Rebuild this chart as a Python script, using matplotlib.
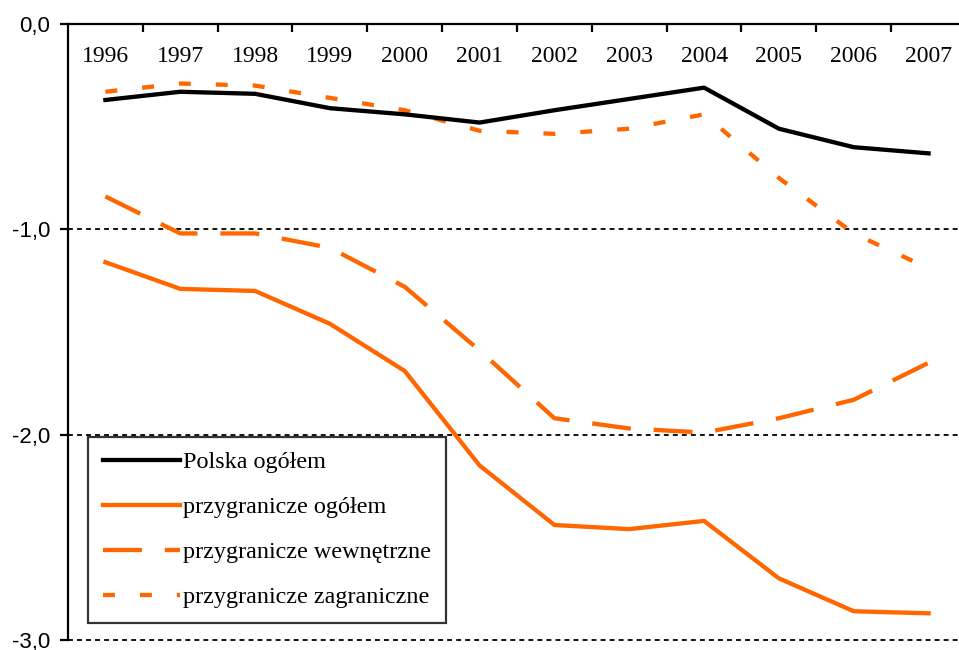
import matplotlib
matplotlib.use("Agg")
import matplotlib.pyplot as plt
from matplotlib.transforms import blended_transform_factory

# dane
years = ["1996", "1997", "1998", "1999", "2000", "2001",
         "2002", "2003", "2004", "2005", "2006", "2007"]
polska_ogolem = [-0.37, -0.33, -0.34, -0.41, -0.44, -0.48,
                 -0.42, -0.365, -0.31, -0.51, -0.60, -0.63]
przyg_ogolem = [-1.16, -1.29, -1.30, -1.46, -1.69, -2.15,
                -2.44, -2.46, -2.42, -2.70, -2.86, -2.87]
przyg_wewn = [-0.84, -1.02, -1.02, -1.09, -1.28, -1.59,
              -1.92, -1.97, -1.99, -1.92, -1.83, -1.65]
przyg_zagr = [-0.33, -0.29, -0.30, -0.36, -0.42, -0.52,
              -0.535, -0.51, -0.44, -0.75, -1.02, -1.19]
labels = ["Polska ogółem", "przygranicze ogółem",
          "przygranicze wewnętrzne", "przygranicze zagraniczne"]
y_ticks = [0.0, -1.0, -2.0, -3.0]

orange = "#FF6600"
plt.rcParams["lines.scale_dashes"] = False

W, H = 959, 650
fig = plt.figure(figsize=(W / 100, H / 100), dpi=100)
ax = fig.add_axes([68 / W, 1 - 640 / H, 898 / W, 616 / H])

x = list(range(len(years)))
ax.plot(x, polska_ogolem, color="black", lw=3.1, label=labels[0],
        solid_joinstyle="round", zorder=5)
ax.plot(x, przyg_ogolem, color=orange, lw=3.1, label=labels[1],
        solid_joinstyle="round", zorder=4)
ax.plot(x, przyg_wewn, color=orange, lw=3.1, label=labels[2],
        dashes=(28, 16.5), dash_capstyle="butt", zorder=4)
ax.plot(x, przyg_zagr, color=orange, lw=3.1, label=labels[3],
        dashes=(8.6, 18), dash_capstyle="butt", zorder=4)

ax.set_xlim(-0.5, len(years) - 0.5)
ax.set_ylim(-3.0, 0.0)

# siatka pozioma
for v in y_ticks[1:]:
    ax.axhline(v, color="black", lw=1.3, linestyle=(0, (3.5, 3)),
               zorder=2, clip_on=False)

for s in ["right", "bottom"]:
    ax.spines[s].set_visible(False)
ax.spines["left"].set_linewidth(1.6)
ax.spines["top"].set_linewidth(1.6)

ax.set_yticks(y_ticks)
ax.set_yticklabels([f"{v:.1f}".replace(".", ",") for v in y_ticks],
                   family="Liberation Sans", fontsize=16)
ax.tick_params(axis="y", direction="out", length=6, width=1.6, pad=7)

ax.xaxis.set_ticks_position("top")
ax.set_xticks([i + 0.5 for i in x[:-1]])
ax.set_xticklabels([])
ax.tick_params(axis="x", direction="in", length=6, width=1.6)

tr = blended_transform_factory(ax.transData, ax.transAxes)
for i, yr in enumerate(years):
    ax.text(i, 0.947, yr, transform=tr, ha="center", va="center",
            family="Liberation Serif", fontsize=17)

leg = ax.legend(loc="upper left", bbox_to_anchor=(88 / W, 1 - 437 / H),
                bbox_transform=fig.transFigure,
                prop={"family": "Liberation Serif", "size": 17.4},
                frameon=True, fancybox=False, borderpad=0.6, borderaxespad=0,
                handlelength=3.2, handletextpad=0.15, labelspacing=0.95)
leg.get_frame().set_edgecolor("black")
leg.get_frame().set_linewidth(1.6)
leg.set_zorder(6)

fig.savefig("out.png", dpi=100)
